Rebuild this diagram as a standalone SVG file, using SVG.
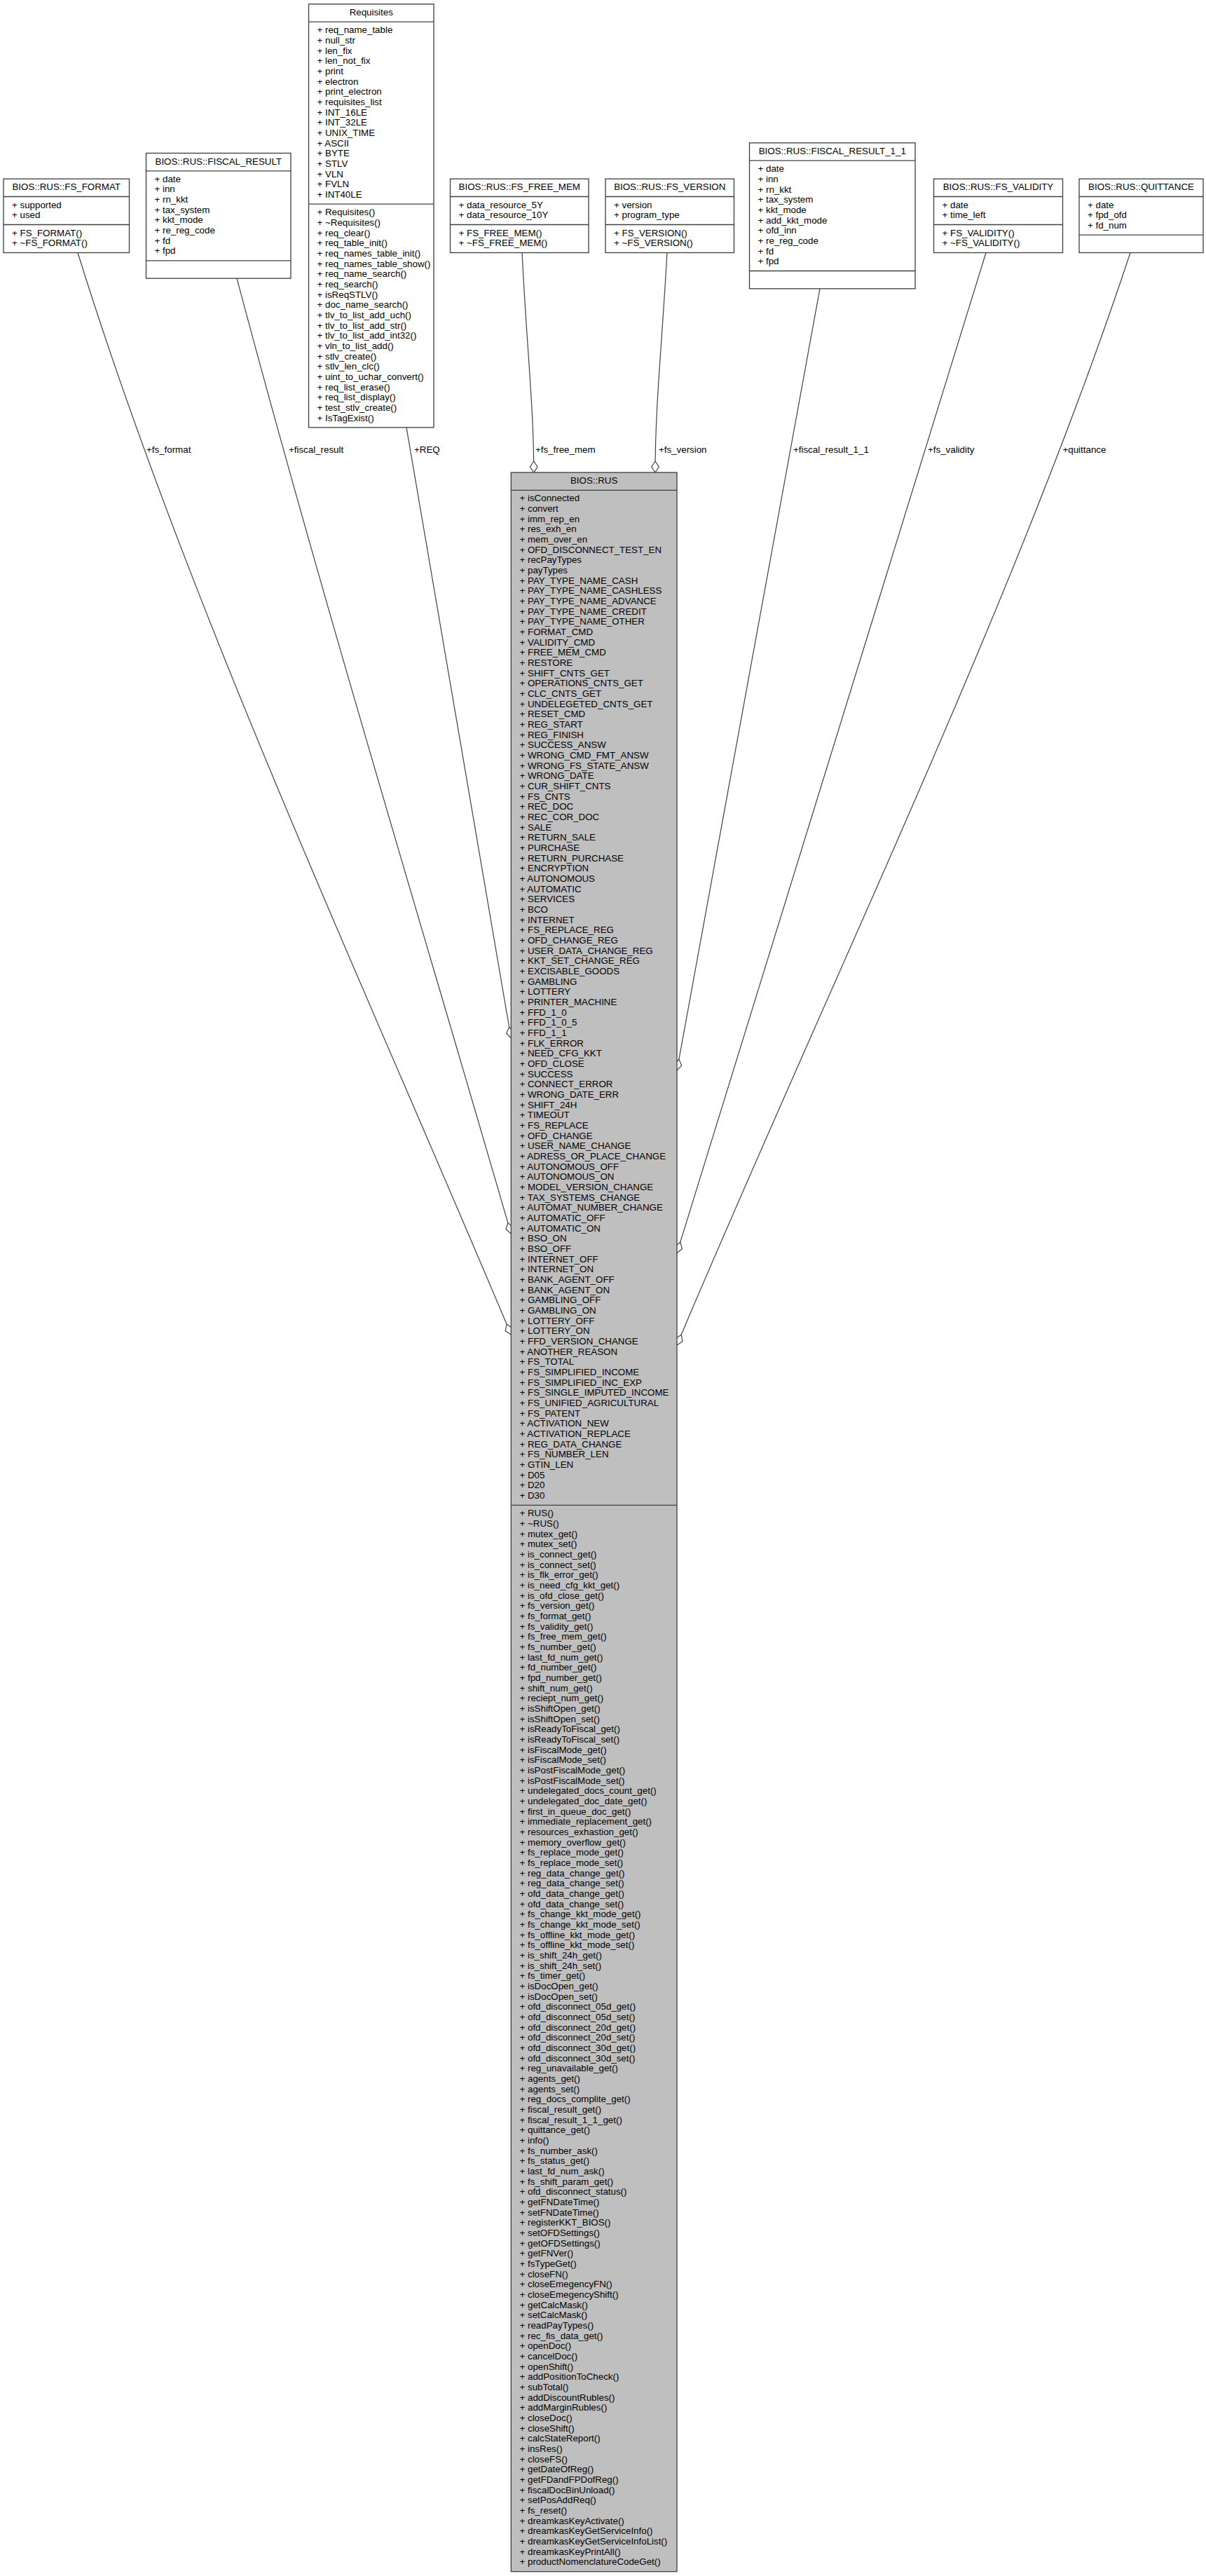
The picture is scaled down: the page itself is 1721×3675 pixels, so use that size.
<svg xmlns="http://www.w3.org/2000/svg" width="1721" height="3675" viewBox="0 0 1721 3675">
<style>
  .box { fill: #ffffff; stroke: #404040; stroke-width: 1.33; }
  .root { fill: #bfbfbf; stroke: #404040; stroke-width: 1.33; }
  .sep { stroke: #404040; stroke-width: 1.33; }
  text { font-family: "Liberation Sans", Arial, Helvetica, sans-serif; font-size: 13.33px; fill: #000000; }
  .ttl { text-anchor: middle; }
  .edge { fill: none; stroke: #404040; stroke-width: 1.2; marker-end: url(#agg); }
</style>
<defs>
  <marker id="agg" markerUnits="userSpaceOnUse" markerWidth="18" markerHeight="12" refX="16" refY="0" viewBox="-1 -6 18 12" orient="auto" overflow="visible">
    <path d="M0,0 L8,-5.33 L16,0 L8,5.33 Z" fill="#ffffff" stroke="#404040" stroke-width="1.2"/>
  </marker>
</defs>
<rect x="0" y="0" width="1721" height="3675" fill="#ffffff"/>

<!-- aggregation edges (member -> owner) -->
<g id="edges">
  <path class="edge" d="M111,360.5 C266,860.5 519.3,1404 729.3,1904"/>
  <path class="edge" d="M338,397.2 C457.7,847.3 598.8,1310 729.3,1760"/>
  <path class="edge" d="M580,609.8 C629.8,900 679.5,1190.6 729.3,1481"/>
  <path class="edge" d="M745,360.5 C752,500 761.7,580 761.7,674"/>
  <path class="edge" d="M952,360.5 C944,500 935,580 935,674"/>
  <path class="edge" d="M1170,411.8 C1102,783.5 1034,1155.3 966,1527"/>
  <path class="edge" d="M1407,360.5 C1260,836 1113,1312 966,1787.6"/>
  <path class="edge" d="M1613,360.5 C1448,860.5 1176,1419 966,1919"/>
  <text x="209" y="645.5">+fs_format</text>
  <text x="412" y="645.5">+fiscal_result</text>
  <text x="591" y="645.5">+REQ</text>
  <text x="764" y="645.5">+fs_free_mem</text>
  <text x="940" y="645.5">+fs_version</text>
  <text x="1132" y="645.5">+fiscal_result_1_1</text>
  <text x="1324" y="645.5">+fs_validity</text>
  <text x="1516.5" y="645.5">+quittance</text>
</g>

<!-- BIOS::RUS::FS_FORMAT -->
<g id="fs_format">
  <rect class="box" x="5" y="255.17" width="179.5" height="105.33"/>
  <line class="sep" x1="5" y1="280.5" x2="184.5" y2="280.5"/>
  <line class="sep" x1="5" y1="320.5" x2="184.5" y2="320.5"/>
  <text class="ttl" x="94.75" y="271.17">BIOS::RUS::FS_FORMAT</text>
  <text x="17" y="296.5"><tspan x="17">+ supported</tspan><tspan x="17" dy="14.667">+ used</tspan></text>
  <text x="17" y="336.5"><tspan x="17">+ FS_FORMAT()</tspan><tspan x="17" dy="14.667">+ ~FS_FORMAT()</tspan></text>
</g>

<!-- BIOS::RUS::FISCAL_RESULT -->
<g id="fiscal_result">
  <rect class="box" x="208.5" y="218.5" width="206.5" height="178.67"/>
  <line class="sep" x1="208.5" y1="243.83" x2="415" y2="243.83"/>
  <line class="sep" x1="208.5" y1="371.83" x2="415" y2="371.83"/>
  <text class="ttl" x="311.75" y="234.5">BIOS::RUS::FISCAL_RESULT</text>
  <text x="220.5" y="259.83"><tspan x="220.5">+ date</tspan><tspan x="220.5" dy="14.667">+ inn</tspan><tspan x="220.5" dy="14.667">+ rn_kkt</tspan><tspan x="220.5" dy="14.667">+ tax_system</tspan><tspan x="220.5" dy="14.667">+ kkt_mode</tspan><tspan x="220.5" dy="14.667">+ re_reg_code</tspan><tspan x="220.5" dy="14.667">+ fd</tspan><tspan x="220.5" dy="14.667">+ fpd</tspan></text>
</g>

<!-- Requisites -->
<g id="requisites">
  <rect class="box" x="440.5" y="5.83" width="178.5" height="604"/>
  <line class="sep" x1="440.5" y1="31.17" x2="619" y2="31.17"/>
  <line class="sep" x1="440.5" y1="291.17" x2="619" y2="291.17"/>
  <text class="ttl" x="529.75" y="21.83">Requisites</text>
  <text x="452.5" y="47.17"><tspan x="452.5">+ req_name_table</tspan><tspan x="452.5" dy="14.667">+ null_str</tspan><tspan x="452.5" dy="14.667">+ len_fix</tspan><tspan x="452.5" dy="14.667">+ len_not_fix</tspan><tspan x="452.5" dy="14.667">+ print</tspan><tspan x="452.5" dy="14.667">+ electron</tspan><tspan x="452.5" dy="14.667">+ print_electron</tspan><tspan x="452.5" dy="14.667">+ requisites_list</tspan><tspan x="452.5" dy="14.667">+ INT_16LE</tspan><tspan x="452.5" dy="14.667">+ INT_32LE</tspan><tspan x="452.5" dy="14.667">+ UNIX_TIME</tspan><tspan x="452.5" dy="14.667">+ ASCII</tspan><tspan x="452.5" dy="14.667">+ BYTE</tspan><tspan x="452.5" dy="14.667">+ STLV</tspan><tspan x="452.5" dy="14.667">+ VLN</tspan><tspan x="452.5" dy="14.667">+ FVLN</tspan><tspan x="452.5" dy="14.667">+ INT40LE</tspan></text>
  <text x="452.5" y="307.17"><tspan x="452.5">+ Requisites()</tspan><tspan x="452.5" dy="14.667">+ ~Requisites()</tspan><tspan x="452.5" dy="14.667">+ req_clear()</tspan><tspan x="452.5" dy="14.667">+ req_table_init()</tspan><tspan x="452.5" dy="14.667">+ req_names_table_init()</tspan><tspan x="452.5" dy="14.667">+ req_names_table_show()</tspan><tspan x="452.5" dy="14.667">+ req_name_search()</tspan><tspan x="452.5" dy="14.667">+ req_search()</tspan><tspan x="452.5" dy="14.667">+ isReqSTLV()</tspan><tspan x="452.5" dy="14.667">+ doc_name_search()</tspan><tspan x="452.5" dy="14.667">+ tlv_to_list_add_uch()</tspan><tspan x="452.5" dy="14.667">+ tlv_to_list_add_str()</tspan><tspan x="452.5" dy="14.667">+ tlv_to_list_add_int32()</tspan><tspan x="452.5" dy="14.667">+ vln_to_list_add()</tspan><tspan x="452.5" dy="14.667">+ stlv_create()</tspan><tspan x="452.5" dy="14.667">+ stlv_len_clc()</tspan><tspan x="452.5" dy="14.667">+ uint_to_uchar_convert()</tspan><tspan x="452.5" dy="14.667">+ req_list_erase()</tspan><tspan x="452.5" dy="14.667">+ req_list_display()</tspan><tspan x="452.5" dy="14.667">+ test_stlv_create()</tspan><tspan x="452.5" dy="14.667">+ IsTagExist()</tspan></text>
</g>

<!-- BIOS::RUS::FS_FREE_MEM -->
<g id="fs_free_mem">
  <rect class="box" x="642.5" y="255.17" width="197.5" height="105.33"/>
  <line class="sep" x1="642.5" y1="280.5" x2="840" y2="280.5"/>
  <line class="sep" x1="642.5" y1="320.5" x2="840" y2="320.5"/>
  <text class="ttl" x="741.25" y="271.17">BIOS::RUS::FS_FREE_MEM</text>
  <text x="654.5" y="296.5"><tspan x="654.5">+ data_resource_5Y</tspan><tspan x="654.5" dy="14.667">+ data_resource_10Y</tspan></text>
  <text x="654.5" y="336.5"><tspan x="654.5">+ FS_FREE_MEM()</tspan><tspan x="654.5" dy="14.667">+ ~FS_FREE_MEM()</tspan></text>
</g>

<!-- BIOS::RUS::FS_VERSION -->
<g id="fs_version">
  <rect class="box" x="864" y="255.17" width="183.5" height="105.33"/>
  <line class="sep" x1="864" y1="280.5" x2="1047.5" y2="280.5"/>
  <line class="sep" x1="864" y1="320.5" x2="1047.5" y2="320.5"/>
  <text class="ttl" x="955.75" y="271.17">BIOS::RUS::FS_VERSION</text>
  <text x="876" y="296.5"><tspan x="876">+ version</tspan><tspan x="876" dy="14.667">+ program_type</tspan></text>
  <text x="876" y="336.5"><tspan x="876">+ FS_VERSION()</tspan><tspan x="876" dy="14.667">+ ~FS_VERSION()</tspan></text>
</g>

<!-- BIOS::RUS::FISCAL_RESULT_1_1 -->
<g id="fiscal_result_1_1">
  <rect class="box" x="1069.5" y="203.83" width="236.5" height="208"/>
  <line class="sep" x1="1069.5" y1="229.17" x2="1306" y2="229.17"/>
  <line class="sep" x1="1069.5" y1="386.5" x2="1306" y2="386.5"/>
  <text class="ttl" x="1187.75" y="219.83">BIOS::RUS::FISCAL_RESULT_1_1</text>
  <text x="1081.5" y="245.17"><tspan x="1081.5">+ date</tspan><tspan x="1081.5" dy="14.667">+ inn</tspan><tspan x="1081.5" dy="14.667">+ rn_kkt</tspan><tspan x="1081.5" dy="14.667">+ tax_system</tspan><tspan x="1081.5" dy="14.667">+ kkt_mode</tspan><tspan x="1081.5" dy="14.667">+ add_kkt_mode</tspan><tspan x="1081.5" dy="14.667">+ ofd_inn</tspan><tspan x="1081.5" dy="14.667">+ re_reg_code</tspan><tspan x="1081.5" dy="14.667">+ fd</tspan><tspan x="1081.5" dy="14.667">+ fpd</tspan></text>
</g>

<!-- BIOS::RUS::FS_VALIDITY -->
<g id="fs_validity">
  <rect class="box" x="1332.5" y="255.17" width="184" height="105.33"/>
  <line class="sep" x1="1332.5" y1="280.5" x2="1516.5" y2="280.5"/>
  <line class="sep" x1="1332.5" y1="320.5" x2="1516.5" y2="320.5"/>
  <text class="ttl" x="1424.5" y="271.17">BIOS::RUS::FS_VALIDITY</text>
  <text x="1344.5" y="296.5"><tspan x="1344.5">+ date</tspan><tspan x="1344.5" dy="14.667">+ time_left</tspan></text>
  <text x="1344.5" y="336.5"><tspan x="1344.5">+ FS_VALIDITY()</tspan><tspan x="1344.5" dy="14.667">+ ~FS_VALIDITY()</tspan></text>
</g>

<!-- BIOS::RUS::QUITTANCE -->
<g id="quittance">
  <rect class="box" x="1540" y="255.17" width="177" height="105.33"/>
  <line class="sep" x1="1540" y1="280.5" x2="1717" y2="280.5"/>
  <line class="sep" x1="1540" y1="335.17" x2="1717" y2="335.17"/>
  <text class="ttl" x="1628.5" y="271.17">BIOS::RUS::QUITTANCE</text>
  <text x="1552" y="296.5"><tspan x="1552">+ date</tspan><tspan x="1552" dy="14.667">+ fpd_ofd</tspan><tspan x="1552" dy="14.667">+ fd_num</tspan></text>
</g>

<!-- BIOS::RUS (owner class) -->
<g id="rus">
  <rect class="root" x="729.3" y="674" width="236.7" height="2994.67"/>
  <line class="sep" x1="729.3" y1="699.33" x2="966" y2="699.33"/>
  <line class="sep" x1="729.3" y1="2147.33" x2="966" y2="2147.33"/>
  <text class="ttl" x="847.65" y="690">BIOS::RUS</text>
  <text x="741.5" y="715.33"><tspan x="741.5">+ isConnected</tspan><tspan x="741.5" dy="14.667">+ convert</tspan><tspan x="741.5" dy="14.667">+ imm_rep_en</tspan><tspan x="741.5" dy="14.667">+ res_exh_en</tspan><tspan x="741.5" dy="14.667">+ mem_over_en</tspan><tspan x="741.5" dy="14.667">+ OFD_DISCONNECT_TEST_EN</tspan><tspan x="741.5" dy="14.667">+ recPayTypes</tspan><tspan x="741.5" dy="14.667">+ payTypes</tspan><tspan x="741.5" dy="14.667">+ PAY_TYPE_NAME_CASH</tspan><tspan x="741.5" dy="14.667">+ PAY_TYPE_NAME_CASHLESS</tspan><tspan x="741.5" dy="14.667">+ PAY_TYPE_NAME_ADVANCE</tspan><tspan x="741.5" dy="14.667">+ PAY_TYPE_NAME_CREDIT</tspan><tspan x="741.5" dy="14.667">+ PAY_TYPE_NAME_OTHER</tspan><tspan x="741.5" dy="14.667">+ FORMAT_CMD</tspan><tspan x="741.5" dy="14.667">+ VALIDITY_CMD</tspan><tspan x="741.5" dy="14.667">+ FREE_MEM_CMD</tspan><tspan x="741.5" dy="14.667">+ RESTORE</tspan><tspan x="741.5" dy="14.667">+ SHIFT_CNTS_GET</tspan><tspan x="741.5" dy="14.667">+ OPERATIONS_CNTS_GET</tspan><tspan x="741.5" dy="14.667">+ CLC_CNTS_GET</tspan><tspan x="741.5" dy="14.667">+ UNDELEGETED_CNTS_GET</tspan><tspan x="741.5" dy="14.667">+ RESET_CMD</tspan><tspan x="741.5" dy="14.667">+ REG_START</tspan><tspan x="741.5" dy="14.667">+ REG_FINISH</tspan><tspan x="741.5" dy="14.667">+ SUCCESS_ANSW</tspan><tspan x="741.5" dy="14.667">+ WRONG_CMD_FMT_ANSW</tspan><tspan x="741.5" dy="14.667">+ WRONG_FS_STATE_ANSW</tspan><tspan x="741.5" dy="14.667">+ WRONG_DATE</tspan><tspan x="741.5" dy="14.667">+ CUR_SHIFT_CNTS</tspan><tspan x="741.5" dy="14.667">+ FS_CNTS</tspan><tspan x="741.5" dy="14.667">+ REC_DOC</tspan><tspan x="741.5" dy="14.667">+ REC_COR_DOC</tspan><tspan x="741.5" dy="14.667">+ SALE</tspan><tspan x="741.5" dy="14.667">+ RETURN_SALE</tspan><tspan x="741.5" dy="14.667">+ PURCHASE</tspan><tspan x="741.5" dy="14.667">+ RETURN_PURCHASE</tspan><tspan x="741.5" dy="14.667">+ ENCRYPTION</tspan><tspan x="741.5" dy="14.667">+ AUTONOMOUS</tspan><tspan x="741.5" dy="14.667">+ AUTOMATIC</tspan><tspan x="741.5" dy="14.667">+ SERVICES</tspan><tspan x="741.5" dy="14.667">+ BCO</tspan><tspan x="741.5" dy="14.667">+ INTERNET</tspan><tspan x="741.5" dy="14.667">+ FS_REPLACE_REG</tspan><tspan x="741.5" dy="14.667">+ OFD_CHANGE_REG</tspan><tspan x="741.5" dy="14.667">+ USER_DATA_CHANGE_REG</tspan><tspan x="741.5" dy="14.667">+ KKT_SET_CHANGE_REG</tspan><tspan x="741.5" dy="14.667">+ EXCISABLE_GOODS</tspan><tspan x="741.5" dy="14.667">+ GAMBLING</tspan><tspan x="741.5" dy="14.667">+ LOTTERY</tspan><tspan x="741.5" dy="14.667">+ PRINTER_MACHINE</tspan><tspan x="741.5" dy="14.667">+ FFD_1_0</tspan><tspan x="741.5" dy="14.667">+ FFD_1_0_5</tspan><tspan x="741.5" dy="14.667">+ FFD_1_1</tspan><tspan x="741.5" dy="14.667">+ FLK_ERROR</tspan><tspan x="741.5" dy="14.667">+ NEED_CFG_KKT</tspan><tspan x="741.5" dy="14.667">+ OFD_CLOSE</tspan><tspan x="741.5" dy="14.667">+ SUCCESS</tspan><tspan x="741.5" dy="14.667">+ CONNECT_ERROR</tspan><tspan x="741.5" dy="14.667">+ WRONG_DATE_ERR</tspan><tspan x="741.5" dy="14.667">+ SHIFT_24H</tspan><tspan x="741.5" dy="14.667">+ TIMEOUT</tspan><tspan x="741.5" dy="14.667">+ FS_REPLACE</tspan><tspan x="741.5" dy="14.667">+ OFD_CHANGE</tspan><tspan x="741.5" dy="14.667">+ USER_NAME_CHANGE</tspan><tspan x="741.5" dy="14.667">+ ADRESS_OR_PLACE_CHANGE</tspan><tspan x="741.5" dy="14.667">+ AUTONOMOUS_OFF</tspan><tspan x="741.5" dy="14.667">+ AUTONOMOUS_ON</tspan><tspan x="741.5" dy="14.667">+ MODEL_VERSION_CHANGE</tspan><tspan x="741.5" dy="14.667">+ TAX_SYSTEMS_CHANGE</tspan><tspan x="741.5" dy="14.667">+ AUTOMAT_NUMBER_CHANGE</tspan><tspan x="741.5" dy="14.667">+ AUTOMATIC_OFF</tspan><tspan x="741.5" dy="14.667">+ AUTOMATIC_ON</tspan><tspan x="741.5" dy="14.667">+ BSO_ON</tspan><tspan x="741.5" dy="14.667">+ BSO_OFF</tspan><tspan x="741.5" dy="14.667">+ INTERNET_OFF</tspan><tspan x="741.5" dy="14.667">+ INTERNET_ON</tspan><tspan x="741.5" dy="14.667">+ BANK_AGENT_OFF</tspan><tspan x="741.5" dy="14.667">+ BANK_AGENT_ON</tspan><tspan x="741.5" dy="14.667">+ GAMBLING_OFF</tspan><tspan x="741.5" dy="14.667">+ GAMBLING_ON</tspan><tspan x="741.5" dy="14.667">+ LOTTERY_OFF</tspan><tspan x="741.5" dy="14.667">+ LOTTERY_ON</tspan><tspan x="741.5" dy="14.667">+ FFD_VERSION_CHANGE</tspan><tspan x="741.5" dy="14.667">+ ANOTHER_REASON</tspan><tspan x="741.5" dy="14.667">+ FS_TOTAL</tspan><tspan x="741.5" dy="14.667">+ FS_SIMPLIFIED_INCOME</tspan><tspan x="741.5" dy="14.667">+ FS_SIMPLIFIED_INC_EXP</tspan><tspan x="741.5" dy="14.667">+ FS_SINGLE_IMPUTED_INCOME</tspan><tspan x="741.5" dy="14.667">+ FS_UNIFIED_AGRICULTURAL</tspan><tspan x="741.5" dy="14.667">+ FS_PATENT</tspan><tspan x="741.5" dy="14.667">+ ACTIVATION_NEW</tspan><tspan x="741.5" dy="14.667">+ ACTIVATION_REPLACE</tspan><tspan x="741.5" dy="14.667">+ REG_DATA_CHANGE</tspan><tspan x="741.5" dy="14.667">+ FS_NUMBER_LEN</tspan><tspan x="741.5" dy="14.667">+ GTIN_LEN</tspan><tspan x="741.5" dy="14.667">+ D05</tspan><tspan x="741.5" dy="14.667">+ D20</tspan><tspan x="741.5" dy="14.667">+ D30</tspan></text>
  <text x="741.5" y="2163.33"><tspan x="741.5">+ RUS()</tspan><tspan x="741.5" dy="14.667">+ ~RUS()</tspan><tspan x="741.5" dy="14.667">+ mutex_get()</tspan><tspan x="741.5" dy="14.667">+ mutex_set()</tspan><tspan x="741.5" dy="14.667">+ is_connect_get()</tspan><tspan x="741.5" dy="14.667">+ is_connect_set()</tspan><tspan x="741.5" dy="14.667">+ is_flk_error_get()</tspan><tspan x="741.5" dy="14.667">+ is_need_cfg_kkt_get()</tspan><tspan x="741.5" dy="14.667">+ is_ofd_close_get()</tspan><tspan x="741.5" dy="14.667">+ fs_version_get()</tspan><tspan x="741.5" dy="14.667">+ fs_format_get()</tspan><tspan x="741.5" dy="14.667">+ fs_validity_get()</tspan><tspan x="741.5" dy="14.667">+ fs_free_mem_get()</tspan><tspan x="741.5" dy="14.667">+ fs_number_get()</tspan><tspan x="741.5" dy="14.667">+ last_fd_num_get()</tspan><tspan x="741.5" dy="14.667">+ fd_number_get()</tspan><tspan x="741.5" dy="14.667">+ fpd_number_get()</tspan><tspan x="741.5" dy="14.667">+ shift_num_get()</tspan><tspan x="741.5" dy="14.667">+ reciept_num_get()</tspan><tspan x="741.5" dy="14.667">+ isShiftOpen_get()</tspan><tspan x="741.5" dy="14.667">+ isShiftOpen_set()</tspan><tspan x="741.5" dy="14.667">+ isReadyToFiscal_get()</tspan><tspan x="741.5" dy="14.667">+ isReadyToFiscal_set()</tspan><tspan x="741.5" dy="14.667">+ isFiscalMode_get()</tspan><tspan x="741.5" dy="14.667">+ isFiscalMode_set()</tspan><tspan x="741.5" dy="14.667">+ isPostFiscalMode_get()</tspan><tspan x="741.5" dy="14.667">+ isPostFiscalMode_set()</tspan><tspan x="741.5" dy="14.667">+ undelegated_docs_count_get()</tspan><tspan x="741.5" dy="14.667">+ undelegated_doc_date_get()</tspan><tspan x="741.5" dy="14.667">+ first_in_queue_doc_get()</tspan><tspan x="741.5" dy="14.667">+ immediate_replacement_get()</tspan><tspan x="741.5" dy="14.667">+ resources_exhastion_get()</tspan><tspan x="741.5" dy="14.667">+ memory_overflow_get()</tspan><tspan x="741.5" dy="14.667">+ fs_replace_mode_get()</tspan><tspan x="741.5" dy="14.667">+ fs_replace_mode_set()</tspan><tspan x="741.5" dy="14.667">+ reg_data_change_get()</tspan><tspan x="741.5" dy="14.667">+ reg_data_change_set()</tspan><tspan x="741.5" dy="14.667">+ ofd_data_change_get()</tspan><tspan x="741.5" dy="14.667">+ ofd_data_change_set()</tspan><tspan x="741.5" dy="14.667">+ fs_change_kkt_mode_get()</tspan><tspan x="741.5" dy="14.667">+ fs_change_kkt_mode_set()</tspan><tspan x="741.5" dy="14.667">+ fs_offline_kkt_mode_get()</tspan><tspan x="741.5" dy="14.667">+ fs_offline_kkt_mode_set()</tspan><tspan x="741.5" dy="14.667">+ is_shift_24h_get()</tspan><tspan x="741.5" dy="14.667">+ is_shift_24h_set()</tspan><tspan x="741.5" dy="14.667">+ fs_timer_get()</tspan><tspan x="741.5" dy="14.667">+ isDocOpen_get()</tspan><tspan x="741.5" dy="14.667">+ isDocOpen_set()</tspan><tspan x="741.5" dy="14.667">+ ofd_disconnect_05d_get()</tspan><tspan x="741.5" dy="14.667">+ ofd_disconnect_05d_set()</tspan><tspan x="741.5" dy="14.667">+ ofd_disconnect_20d_get()</tspan><tspan x="741.5" dy="14.667">+ ofd_disconnect_20d_set()</tspan><tspan x="741.5" dy="14.667">+ ofd_disconnect_30d_get()</tspan><tspan x="741.5" dy="14.667">+ ofd_disconnect_30d_set()</tspan><tspan x="741.5" dy="14.667">+ reg_unavailable_get()</tspan><tspan x="741.5" dy="14.667">+ agents_get()</tspan><tspan x="741.5" dy="14.667">+ agents_set()</tspan><tspan x="741.5" dy="14.667">+ reg_docs_complite_get()</tspan><tspan x="741.5" dy="14.667">+ fiscal_result_get()</tspan><tspan x="741.5" dy="14.667">+ fiscal_result_1_1_get()</tspan><tspan x="741.5" dy="14.667">+ quittance_get()</tspan><tspan x="741.5" dy="14.667">+ info()</tspan><tspan x="741.5" dy="14.667">+ fs_number_ask()</tspan><tspan x="741.5" dy="14.667">+ fs_status_get()</tspan><tspan x="741.5" dy="14.667">+ last_fd_num_ask()</tspan><tspan x="741.5" dy="14.667">+ fs_shift_param_get()</tspan><tspan x="741.5" dy="14.667">+ ofd_disconnect_status()</tspan><tspan x="741.5" dy="14.667">+ getFNDateTime()</tspan><tspan x="741.5" dy="14.667">+ setFNDateTime()</tspan><tspan x="741.5" dy="14.667">+ registerKKT_BIOS()</tspan><tspan x="741.5" dy="14.667">+ setOFDSettings()</tspan><tspan x="741.5" dy="14.667">+ getOFDSettings()</tspan><tspan x="741.5" dy="14.667">+ getFNVer()</tspan><tspan x="741.5" dy="14.667">+ fsTypeGet()</tspan><tspan x="741.5" dy="14.667">+ closeFN()</tspan><tspan x="741.5" dy="14.667">+ closeEmegencyFN()</tspan><tspan x="741.5" dy="14.667">+ closeEmegencyShift()</tspan><tspan x="741.5" dy="14.667">+ getCalcMask()</tspan><tspan x="741.5" dy="14.667">+ setCalcMask()</tspan><tspan x="741.5" dy="14.667">+ readPayTypes()</tspan><tspan x="741.5" dy="14.667">+ rec_fis_data_get()</tspan><tspan x="741.5" dy="14.667">+ openDoc()</tspan><tspan x="741.5" dy="14.667">+ cancelDoc()</tspan><tspan x="741.5" dy="14.667">+ openShift()</tspan><tspan x="741.5" dy="14.667">+ addPositionToCheck()</tspan><tspan x="741.5" dy="14.667">+ subTotal()</tspan><tspan x="741.5" dy="14.667">+ addDiscountRubles()</tspan><tspan x="741.5" dy="14.667">+ addMarginRubles()</tspan><tspan x="741.5" dy="14.667">+ closeDoc()</tspan><tspan x="741.5" dy="14.667">+ closeShift()</tspan><tspan x="741.5" dy="14.667">+ calcStateReport()</tspan><tspan x="741.5" dy="14.667">+ insRes()</tspan><tspan x="741.5" dy="14.667">+ closeFS()</tspan><tspan x="741.5" dy="14.667">+ getDateOfReg()</tspan><tspan x="741.5" dy="14.667">+ getFDandFPDofReg()</tspan><tspan x="741.5" dy="14.667">+ fiscalDocBinUnload()</tspan><tspan x="741.5" dy="14.667">+ setPosAddReq()</tspan><tspan x="741.5" dy="14.667">+ fs_reset()</tspan><tspan x="741.5" dy="14.667">+ dreamkasKeyActivate()</tspan><tspan x="741.5" dy="14.667">+ dreamkasKeyGetServiceInfo()</tspan><tspan x="741.5" dy="14.667">+ dreamkasKeyGetServiceInfoList()</tspan><tspan x="741.5" dy="14.667">+ dreamkasKeyPrintAll()</tspan><tspan x="741.5" dy="14.667">+ productNomenclatureCodeGet()</tspan></text>
</g>
</svg>
